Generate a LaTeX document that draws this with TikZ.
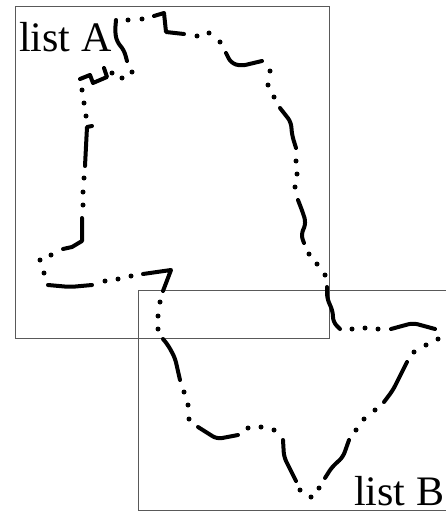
\documentclass[tikz,border=0pt]{standalone}
\usepackage{fontspec}
\setmainfont{Liberation Serif}
\tikzset{
  listbox/.style={draw=black!65!white,line width=0.8pt},
  penstroke/.style={line width=4pt,line cap=round,line join=round},
  soft/.style={penstroke,rounded corners=5pt},
  lbl/.style={font=\fontsize{42}{42}\selectfont,inner sep=0pt,anchor=base west}
}
\newcommand{\dts}[1]{\foreach \p in {#1}{\fill \p circle (2.5);}}
\begin{document}
\begin{tikzpicture}[x=1pt,y=-1pt]
\useasboundingbox (0,0) rectangle (446,519);
\fill[white] (0,0) rectangle (446,519);
\draw[listbox] (15.5,6) rectangle (329,338);
\draw[listbox] (446,290.5) -- (138,290.5) -- (138,510) -- (446,510);
\node[lbl] (la) at (19,51.5) {list A};
\node[lbl] (lb) at (354,505) {list B};
\draw[soft] (127,61)--(124,50)--(117,42)--(115,32)--(116,20);
\draw[penstroke] (154,16)--(164,13)--(166,32)--(184,34);
\draw[soft] (226,53)--(231,63)--(241,66)--(262,61);
\draw[soft] (280,108)--(291,122)--(292,135)--(296,148);
\draw[soft] (298,200)--(303,213)--(306,223)--(301,235)--(304,243);
\draw[soft] (327,287)--(327,298)--(333,312)--(333,322)--(340,329);
\draw[soft] (391,329)--(413,323)--(435,329);
\draw[soft] (407,362)--(393,390)--(384,402);
\draw[soft] (349,440)--(343,457)--(332,467)--(325,478);
\draw[soft] (296,481)--(284,457)--(283,440);
\draw[soft] (238,435)--(217,439)--(198,427);
\draw[soft] (180,380)--(175,358)--(168,345)--(163,339);
\draw[penstroke] (163,291)--(171,270)--(143,274);
\draw[soft] (92,285)--(70,287)--(48,285);
\draw[penstroke] (63,249)--(72,247)--(82,241)--(82,218);
\draw[penstroke] (85,166)--(87,127)--(92,126);
\draw[penstroke] (80,79)--(90,75)--(93,83)--(107,77)--(104,68);
\dts{(128,20),(142,19),(197,36),(209,33),(220,42),(270,71),(268,85),(274,97),
(296,161),(297,174),(295,187),(309,254),(317,264),(325,275),(352,329),(365,328),(378,329),
(438,339),(426,345),(414,352),(375,410),(364,419),(356,430),(319,488),(311,497),(300,490),
(274,430),(261,427),(248,428),(189,419),(188,405),(184,392),(158,329),(158,316),(160,302),
(131,276),(118,279),(105,281),(44,273),(40,260),(51,255),(83,205),(83,192),(84,178),
(86,116),(84,103),(82,90),(112,73),(122,78),(132,72)}
\end{tikzpicture}
\end{document}
